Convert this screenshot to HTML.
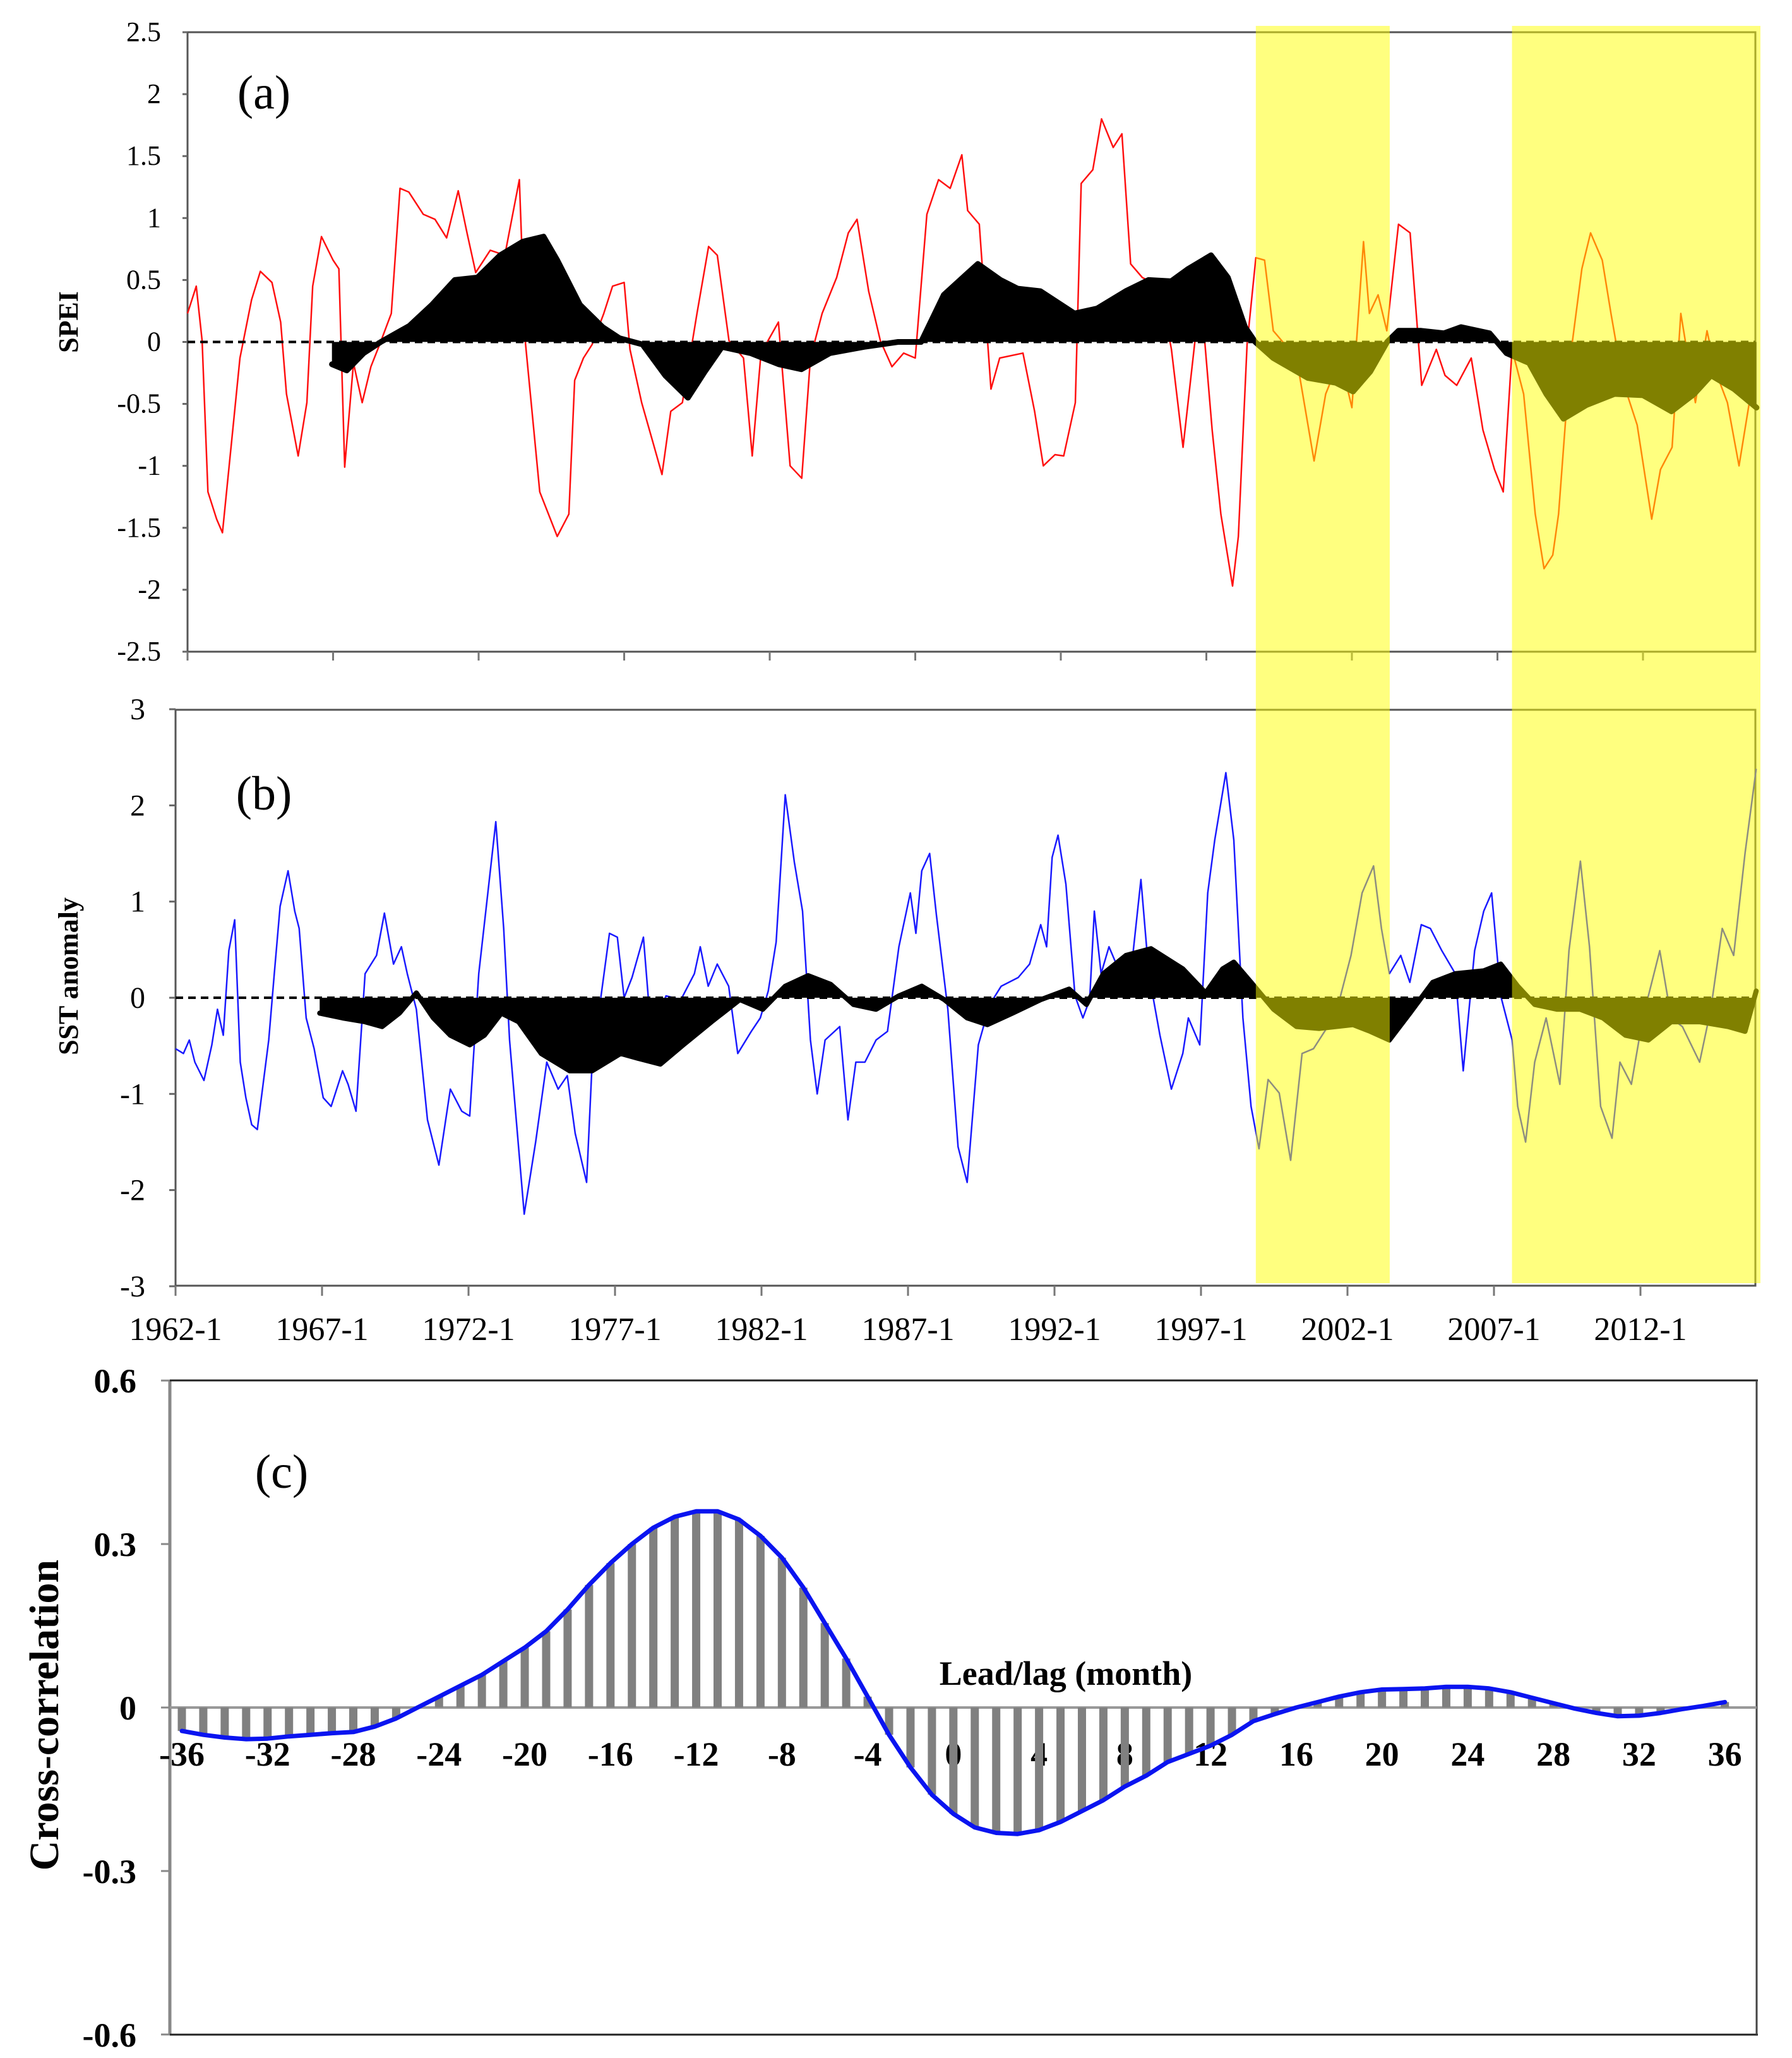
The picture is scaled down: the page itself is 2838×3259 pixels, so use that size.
<!DOCTYPE html>
<html><head><meta charset="utf-8">
<style>
html,body{margin:0;padding:0;background:#fff;}
svg{display:block;}
text{font-family:"Liberation Serif",serif;fill:#000;}
</style></head>
<body>
<svg id="chart" width="2838" height="3259" viewBox="0 0 2838 3259" xmlns="http://www.w3.org/2000/svg">
<g id="pa"></g>
<g id="pb"></g>
<g id="pc"></g>
<g id="hl"></g>
</svg>
<script>
// ---- Panel (a) SPEI data ----
const speiYears=[1962.0,1962.3,1962.5,1962.7,1963.0,1963.2,1963.6,1963.8,1964.2,1964.5,1964.9,1965.2,1965.4,1965.8,1966.1,1966.3,1966.6,1967.0,1967.2,1967.4,1967.7,1968.0,1968.3,1968.6,1969.0,1969.3,1969.6,1970.1,1970.5,1970.9,1971.3,1971.6,1971.9,1972.4,1972.9,1973.4,1973.6,1974.1,1974.7,1975.1,1975.3,1975.6,1975.9,1976.3,1976.6,1977.0,1977.2,1977.6,1978.0,1978.3,1978.6,1979.0,1979.5,1979.9,1980.2,1980.6,1981.1,1981.4,1981.7,1982.3,1982.7,1983.1,1983.4,1983.8,1984.3,1984.7,1985.0,1985.4,1985.8,1986.2,1986.6,1987.0,1987.4,1987.8,1988.2,1988.6,1988.8,1989.2,1989.6,1989.9,1990.7,1991.1,1991.4,1991.8,1992.1,1992.5,1992.7,1993.1,1993.4,1993.8,1994.1,1994.4,1994.8,1995.4,1995.8,1996.2,1996.8,1997.2,1997.5,1997.9,1998.1,1998.4,1998.7,1999.0,1999.3,2000.1,2000.7,2001.1,2001.6,2002.0,2002.4,2002.6,2002.9,2003.2,2003.6,2004.0,2004.4,2004.9,2005.2,2005.6,2006.1,2006.5,2006.9,2007.2,2007.5,2007.9,2008.3,2008.6,2008.9,2009.1,2009.5,2009.9,2010.2,2010.6,2010.9,2011.3,2011.8,2012.3,2012.6,2013.0,2013.3,2013.8,2014.2,2014.5,2014.9,2015.3,2015.7];
const speiValues=[0.23,0.45,0.01,-1.21,-1.43,-1.54,-0.60,-0.13,0.34,0.57,0.48,0.16,-0.42,-0.92,-0.49,0.45,0.85,0.66,0.59,-1.01,-0.17,-0.49,-0.20,-0.02,0.23,1.24,1.21,1.03,0.99,0.84,1.22,0.88,0.56,0.74,0.70,1.31,0.01,-1.21,-1.57,-1.39,-0.31,-0.13,-0.02,0.23,0.45,0.48,-0.06,-0.49,-0.82,-1.07,-0.56,-0.49,0.23,0.77,0.70,0.01,-0.13,-0.92,-0.09,0.16,-1.00,-1.10,-0.13,0.23,0.52,0.88,0.99,0.41,0.01,-0.20,-0.09,-0.13,1.03,1.31,1.24,1.51,1.06,0.95,-0.38,-0.13,-0.09,-0.56,-1.00,-0.91,-0.92,-0.49,1.28,1.39,1.80,1.57,1.68,0.63,0.52,0.45,-0.06,-0.85,0.41,-0.71,-1.39,-1.97,-1.57,-0.02,0.68,0.66,0.09,-0.13,-0.96,-0.42,-0.13,-0.53,0.81,0.23,0.38,0.09,0.95,0.88,-0.35,-0.06,-0.27,-0.35,-0.13,-0.71,-1.03,-1.21,-0.06,-0.42,-1.39,-1.83,-1.72,-1.39,-0.13,0.59,0.88,0.66,0.23,-0.31,-0.67,-1.43,-1.03,-0.85,0.23,-0.49,0.09,-0.24,-0.49,-1.00,-0.42];
const speiSmoothYears=[1966.96,1967.47,1968.05,1968.64,1969.62,1970.40,1971.18,1971.96,1972.74,1973.52,1974.23,1974.70,1975.48,1976.26,1976.84,1977.63,1978.41,1979.19,1979.77,1980.36,1981.34,1982.31,1983.09,1984.07,1985.24,1986.41,1987.20,1987.98,1989.15,1989.93,1990.52,1991.30,1992.47,1993.25,1994.23,1995.01,1995.79,1996.38,1997.16,1997.74,1998.33,1998.68,1999.30,2000.48,2001.45,2002.04,2002.63,2003.21,2003.60,2004.38,2005.16,2005.75,2006.73,2007.31,2008.09,2008.68,2009.27,2010.05,2011.02,2012.0,2012.98,2013.76,2014.34,2015.13,2015.9];
const speiSmoothValues=[-0.18,-0.23,-0.09,0.0,0.13,0.30,0.50,0.52,0.70,0.81,0.85,0.66,0.30,0.12,0.03,-0.02,-0.27,-0.45,-0.24,-0.04,-0.09,-0.18,-0.22,-0.09,-0.04,0.0,0.0,0.38,0.63,0.50,0.43,0.41,0.23,0.27,0.41,0.50,0.49,0.59,0.70,0.52,0.12,0.0,-0.13,-0.29,-0.33,-0.40,-0.24,0.0,0.09,0.09,0.07,0.12,0.07,-0.09,-0.17,-0.42,-0.62,-0.51,-0.42,-0.43,-0.56,-0.42,-0.27,-0.38,-0.53];
const speiTicks=["2.5","2","1.5","1","0.5","0","-0.5","-1","-1.5","-2","-2.5"];
const speiTickVals=[2.5,2,1.5,1,0.5,0,-0.5,-1,-1.5,-2,-2.5];

// ---- Panel (b) SST data ----
const sstYears=[1962.0,1962.27,1962.47,1962.66,1962.97,1963.24,1963.43,1963.63,1963.82,1964.02,1964.21,1964.40,1964.60,1964.79,1965.18,1965.37,1965.57,1965.84,1966.07,1966.22,1966.46,1966.73,1967.04,1967.31,1967.70,1967.89,1968.16,1968.47,1968.86,1969.13,1969.44,1969.71,1969.91,1970.22,1970.60,1970.99,1971.38,1971.77,1972.04,1972.35,1972.66,1972.93,1973.20,1973.40,1973.59,1973.90,1974.29,1974.67,1975.06,1975.37,1975.64,1976.03,1976.22,1976.81,1977.08,1977.31,1977.58,1977.97,1978.24,1978.74,1979.25,1979.71,1979.91,1980.18,1980.49,1980.88,1981.19,1981.65,1981.96,1982.23,1982.50,1982.81,1983.12,1983.40,1983.67,1983.90,1984.17,1984.67,1984.95,1985.22,1985.53,1985.91,1986.30,1986.69,1987.08,1987.27,1987.47,1987.74,1987.97,1988.36,1988.71,1989.02,1989.40,1989.79,1990.18,1990.76,1991.15,1991.53,1991.73,1991.92,1992.12,1992.39,1992.70,1992.97,1993.20,1993.36,1993.59,1993.86,1994.25,1994.64,1994.95,1995.22,1995.60,1995.99,1996.38,1996.57,1996.96,1997.23,1997.47,1997.85,1998.12,1998.43,1998.71,1998.98,1999.29,1999.67,2000.06,2000.45,2000.84,2001.22,2001.61,2002.12,2002.50,2002.89,2003.16,2003.43,2003.82,2004.13,2004.52,2004.83,2005.22,2005.68,2005.95,2006.34,2006.65,2006.92,2007.23,2007.62,2007.81,2008.08,2008.39,2008.78,2009.25,2009.56,2009.95,2010.26,2010.64,2011.03,2011.30,2011.69,2012.08,2012.66,2013.05,2013.43,2014.02,2014.40,2014.79,2015.18,2015.57,2015.95];
const sstValues=[-0.53,-0.58,-0.44,-0.67,-0.86,-0.49,-0.12,-0.39,0.49,0.81,-0.67,-1.04,-1.32,-1.37,-0.44,0.25,0.95,1.32,0.90,0.72,-0.21,-0.53,-1.04,-1.13,-0.76,-0.90,-1.18,0.25,0.44,0.88,0.35,0.53,0.25,-0.12,-1.27,-1.74,-0.95,-1.18,-1.23,0.25,1.09,1.83,0.72,-0.44,-1.13,-2.25,-1.50,-0.67,-0.95,-0.81,-1.41,-1.92,-0.67,0.67,0.63,0.0,0.21,0.63,-0.39,0.02,-0.02,0.25,0.53,0.12,0.35,0.12,-0.58,-0.35,-0.21,0.07,0.58,2.11,1.41,0.90,-0.44,-1.00,-0.44,-0.30,-1.27,-0.67,-0.67,-0.44,-0.35,0.53,1.09,0.67,1.32,1.50,0.86,-0.12,-1.55,-1.92,-0.49,-0.07,0.12,0.21,0.35,0.76,0.53,1.46,1.69,1.18,0.02,-0.21,-0.02,0.90,0.25,0.53,0.25,0.35,1.23,0.25,-0.39,-0.95,-0.58,-0.21,-0.49,1.09,1.64,2.34,1.64,-0.21,-1.13,-1.57,-0.85,-0.99,-1.69,-0.58,-0.53,-0.35,-0.16,0.44,1.09,1.37,0.72,0.25,0.44,0.16,0.76,0.72,0.49,0.25,-0.76,0.49,0.90,1.09,0.02,-0.44,-1.13,-1.50,-0.67,-0.21,-0.90,0.49,1.42,0.53,-1.13,-1.46,-0.67,-0.90,-0.21,0.49,-0.21,-0.30,-0.67,-0.12,0.72,0.44,1.50,2.38];
const sstSmoothYears=[1966.92,1967.70,1968.47,1969.05,1969.64,1970.22,1970.80,1971.38,1972.04,1972.54,1973.12,1973.71,1974.48,1975.45,1976.22,1977.19,1977.78,1978.55,1979.33,1980.29,1981.26,1982.04,1982.81,1983.59,1984.36,1985.14,1985.91,1986.69,1987.47,1988.24,1989.02,1989.71,1990.57,1991.53,1992.50,1993.09,1993.67,1994.44,1995.29,1996.38,1997.16,1997.74,1998.12,1998.71,1999.48,2000.26,2001.03,2002.19,2002.78,2003.43,2004.13,2004.91,2005.68,2006.65,2007.23,2007.81,2008.39,2009.16,2009.94,2010.72,2011.49,2012.27,2013.05,2014.02,2014.99,2015.57,2015.95];
const sstSmoothValues=[-0.16,-0.21,-0.25,-0.30,-0.16,0.05,-0.21,-0.39,-0.49,-0.39,-0.16,-0.25,-0.58,-0.76,-0.76,-0.58,-0.63,-0.69,-0.49,-0.25,-0.02,-0.12,0.12,0.23,0.14,-0.07,-0.12,0.02,0.12,-0.02,-0.21,-0.28,-0.16,-0.02,0.09,-0.07,0.25,0.44,0.51,0.30,0.05,0.30,0.37,0.16,-0.12,-0.30,-0.32,-0.28,-0.35,-0.44,-0.16,0.16,0.25,0.28,0.35,0.12,-0.07,-0.12,-0.12,-0.21,-0.39,-0.44,-0.25,-0.25,-0.30,-0.35,0.07];
const sstTicks=["3","2","1","0","-1","-2","-3"];
const sstTickVals=[3,2,1,0,-1,-2,-3];
const yearTickLabels=["1962-1","1967-1","1972-1","1977-1","1982-1","1987-1","1992-1","1997-1","2002-1","2007-1","2012-1"];
const yearTickVals=[1962,1967,1972,1977,1982,1987,1992,1997,2002,2007,2012];
const highlightStart=[1998.7,2007.5];
const highlightEnd=[2003.3,2016.1];

// ---- Panel (c) cross-correlation ----
const lags=[-36,-35,-34,-33,-32,-31,-30,-29,-28,-27,-26,-25,-24,-23,-22,-21,-20,-19,-18,-17,-16,-15,-14,-13,-12,-11,-10,-9,-8,-7,-6,-5,-4,-3,-2,-1,0,1,2,3,4,5,6,7,8,9,10,11,12,13,14,15,16,17,18,19,20,21,22,23,24,25,26,27,28,29,30,31,32,33,34,35,36];
const ccValues=[-0.043,-0.05,-0.055,-0.058,-0.057,-0.053,-0.05,-0.047,-0.045,-0.035,-0.02,0.0,0.02,0.04,0.06,0.085,0.11,0.14,0.18,0.225,0.265,0.30,0.33,0.35,0.36,0.36,0.345,0.315,0.275,0.22,0.155,0.09,0.02,-0.05,-0.11,-0.16,-0.195,-0.22,-0.23,-0.232,-0.225,-0.21,-0.19,-0.17,-0.145,-0.125,-0.10,-0.085,-0.07,-0.05,-0.025,-0.012,0.0,0.01,0.02,0.028,0.033,0.034,0.035,0.038,0.038,0.035,0.028,0.018,0.008,-0.002,-0.01,-0.016,-0.015,-0.01,-0.003,0.003,0.01];
const ccTicks=["0.6","0.3","0","-0.3","-0.6"];
const ccTickVals=[0.6,0.3,0,-0.3,-0.6];
const lagLabelVals=[-36,-32,-28,-24,-20,-16,-12,-8,-4,0,4,8,12,16,20,24,28,32,36];

const NS="http://www.w3.org/2000/svg";
function mk(parent,tag,attrs,txt){const e=document.createElementNS(NS,tag);for(const k in attrs)e.setAttribute(k,attrs[k]);if(txt!==undefined)e.textContent=txt;parent.appendChild(e);return e;}

const xA=t=>297+(t-1962)*46.1, yA=v=>541.5-v*196.2;
const xB=t=>278+(t-1962)*46.4, yB=v=>1580-v*152.3;
const xC=l=>288+(l+36)*33.94, yC=v=>2704-v*863;

function linePath(xs,ys,fx,fy){return xs.map((t,i)=>(i?'L':'M')+fx(t).toFixed(1)+','+fy(ys[i]).toFixed(1)).join(' ');}
function areaPath(xs,ys,fx,fy){let d='M'+fx(xs[0]).toFixed(1)+','+fy(0).toFixed(1);xs.forEach((t,i)=>{d+=' L'+fx(t).toFixed(1)+','+fy(ys[i]).toFixed(1);});d+=' L'+fx(xs[xs.length-1]).toFixed(1)+','+fy(0).toFixed(1)+' Z';return d;}

// ---------- Panel A ----------
const pa=document.getElementById('pa');
let e;
e=mk(pa,'rect',{x:297,y:51,width:2483,height:981,fill:'none',stroke:'#555','stroke-width':3});


speiTickVals.forEach((v,i)=>{
  e=mk(pa,'line',{x1:289,x2:297,y1:yA(v),y2:yA(v),stroke:'#666','stroke-width':3});
  
  
  e=mk(pa,'text',{x:255,y:yA(v)+14,'font-size':44,'text-anchor':'end'},speiTicks[i]);
  
  
});
yearTickVals.forEach(t=>{
  e=mk(pa,'line',{x1:xA(t),x2:xA(t),y1:1032,y2:1046,stroke:'#777','stroke-width':3});
  
  
});
e=mk(pa,'path',{d:linePath(speiYears,speiValues,xA,yA),fill:'none',stroke:'#ff1010','stroke-width':2.5,'stroke-linejoin':'round'});


e=mk(pa,'line',{x1:297,x2:2780,y1:yA(0),y2:yA(0),stroke:'#000','stroke-width':4,'stroke-dasharray':'12,8'});


e=mk(pa,'path',{d:areaPath(speiSmoothYears,speiSmoothValues,xA,yA),fill:'#000',stroke:'none'});


e=mk(pa,'path',{d:linePath(speiSmoothYears,speiSmoothValues,xA,yA),fill:'none',stroke:'#000','stroke-width':9,'stroke-linejoin':'round','stroke-linecap':'round'});


e=mk(pa,'text',{x:0,y:0,'font-size':44,'font-weight':'bold','text-anchor':'middle',transform:'translate(123,510) rotate(-90)'},'SPEI');


e=mk(pa,'text',{x:418,y:172,'font-size':76,'text-anchor':'middle'},'(a)');



// ---------- Panel B ----------
const pb=document.getElementById('pb');
e=mk(pb,'rect',{x:278,y:1124,width:2502,height:912,fill:'none',stroke:'#555','stroke-width':3});


sstTickVals.forEach((v,i)=>{
  e=mk(pb,'line',{x1:268,x2:278,y1:yB(v),y2:yB(v),stroke:'#666','stroke-width':3});
  
  
  e=mk(pb,'text',{x:230,y:yB(v)+16,'font-size':48,'text-anchor':'end'},sstTicks[i]);
  
  
});
yearTickVals.forEach((t,i)=>{
  e=mk(pb,'line',{x1:xB(t),x2:xB(t),y1:2036,y2:2052,stroke:'#777','stroke-width':3});
  
  
  e=mk(pb,'text',{x:xB(t),y:2122,'font-size':52,'text-anchor':'middle'},yearTickLabels[i]);
  
  
});
e=mk(pb,'path',{d:linePath(sstYears,sstValues,xB,yB),fill:'none',stroke:'#1a1aff','stroke-width':2.5,'stroke-linejoin':'round'});


e=mk(pb,'line',{x1:278,x2:2780,y1:yB(0),y2:yB(0),stroke:'#000','stroke-width':4,'stroke-dasharray':'12,8'});


e=mk(pb,'path',{d:areaPath(sstSmoothYears,sstSmoothValues,xB,yB),fill:'#000',stroke:'none'});


e=mk(pb,'path',{d:linePath(sstSmoothYears,sstSmoothValues,xB,yB),fill:'none',stroke:'#000','stroke-width':8,'stroke-linejoin':'round','stroke-linecap':'round'});


e=mk(pb,'text',{x:0,y:0,'font-size':44,'font-weight':'bold','text-anchor':'middle',transform:'translate(123,1546) rotate(-90)'},'SST anomaly');


e=mk(pb,'text',{x:418,y:1282,'font-size':76,'text-anchor':'middle'},'(b)');



// ---------- Yellow highlight ----------
const hl=document.getElementById('hl');
highlightStart.forEach((s,i)=>{
  const x1=xA(s), x2=Math.min(xA(highlightEnd[i]),2788);
  e=mk(hl,'rect',{x:x1,y:41,width:x2-x1,height:1991,fill:'#ffff00','fill-opacity':0.5});
  
  
});

// ---------- Panel C ----------
const pc=document.getElementById('pc');
e=mk(pc,'line',{x1:269,x2:269,y1:2186,y2:3222,stroke:'#888','stroke-width':5});


e=mk(pc,'line',{x1:269,x2:2784,y1:2186,y2:2186,stroke:'#222','stroke-width':3});


e=mk(pc,'line',{x1:269,x2:2784,y1:3222,y2:3222,stroke:'#222','stroke-width':3});


e=mk(pc,'line',{x1:2782,x2:2782,y1:2186,y2:3222,stroke:'#444','stroke-width':3});


ccTickVals.forEach((v,i)=>{
  e=mk(pc,'line',{x1:255,x2:269,y1:yC(v),y2:yC(v),stroke:'#888','stroke-width':3});
  
  
  e=mk(pc,'text',{x:216,y:yC(v)+19,'font-size':54,'font-weight':'bold','text-anchor':'end'},ccTicks[i]);
  
  
});
lagLabelVals.forEach(l=>{
  e=mk(pc,'text',{x:xC(l),y:2796,'font-size':54,'font-weight':'bold','text-anchor':'middle'},String(l));
  
  
});
e=mk(pc,'line',{x1:269,x2:2782,y1:yC(0),y2:yC(0),stroke:'#999','stroke-width':4});


lags.forEach((l,i)=>{
  const v=ccValues[i], y0=yC(0), y1=yC(v);
  e=mk(pc,'rect',{x:xC(l)-6.5,y:Math.min(y0,y1),width:13,height:Math.abs(y1-y0),fill:'#808080'});
  
  
});
e=mk(pc,'path',{d:linePath(lags,ccValues,xC,yC),fill:'none',stroke:'#0a14f0','stroke-width':7,'stroke-linejoin':'round','stroke-linecap':'round'});


e=mk(pc,'text',{x:1688,y:2668,'font-size':54,'font-weight':'bold','text-anchor':'middle'},'Lead/lag (month)');


e=mk(pc,'text',{x:0,y:0,'font-size':66,'font-weight':'bold','text-anchor':'middle',transform:'translate(92,2716) rotate(-90)'},'Cross-correlation');


e=mk(pc,'text',{x:446,y:2356,'font-size':76,'text-anchor':'middle'},'(c)');


</script>
</body></html>
